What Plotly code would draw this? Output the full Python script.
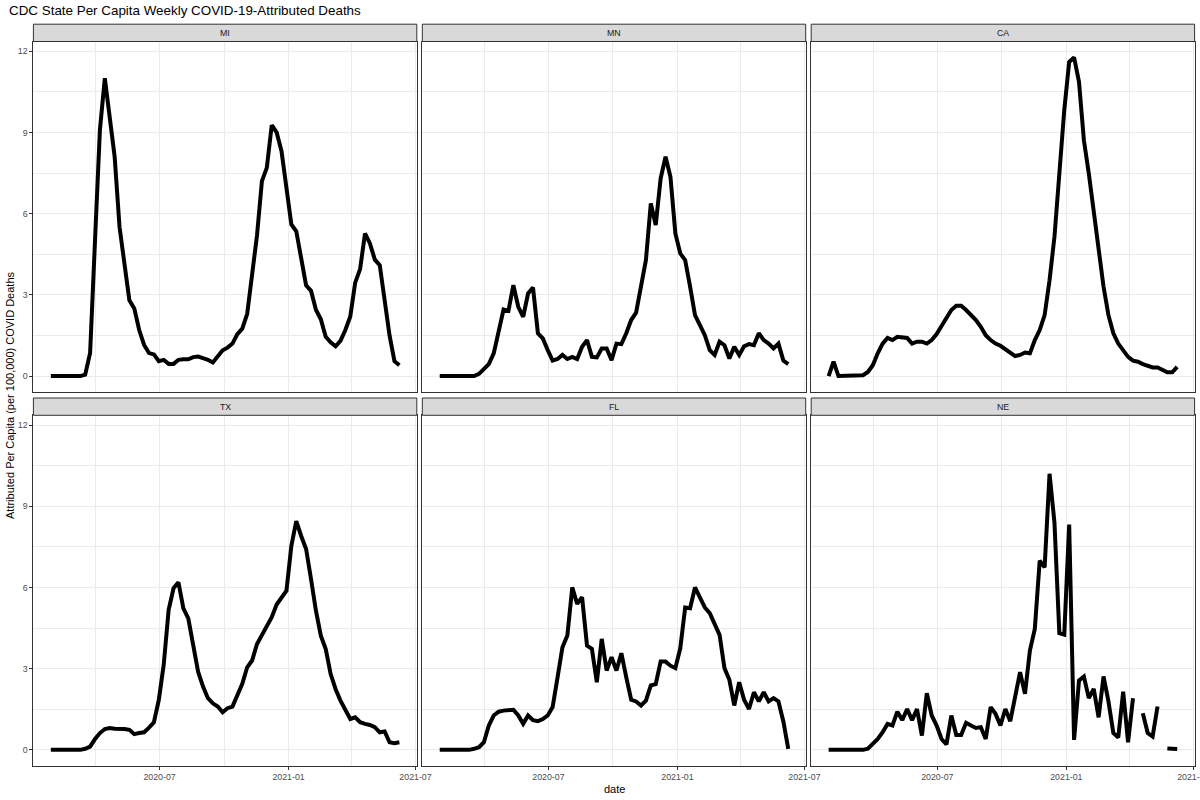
import numpy as np
import pandas as pd
import plotly.graph_objects as go
from plotly.subplots import make_subplots

# weekly per-capita deaths (per 100,000), one point per week
dates = pd.date_range("2020-01-28", periods=72, freq="7D")

states = ["MI", "MN", "CA", "TX", "FL", "NE"]

mi = [0, 0, 0, 0, 0, 0, 0, 0.05, 0.85, 5.0, 9.1, 11.0, 9.5, 8.1, 5.5, 4.1, 2.8, 2.5, 1.7, 1.15,
      0.85, 0.8, 0.55, 0.6, 0.45, 0.45, 0.6, 0.62, 0.62, 0.7, 0.72, 0.66, 0.6, 0.5, 0.75, 0.95,
      1.05, 1.2, 1.55, 1.75, 2.3, 3.9, 5.2, 7.2, 7.7, 9.27, 9.0, 8.3, 6.9, 5.6, 5.35, 4.3, 3.35,
      3.15, 2.45, 2.1, 1.45, 1.25, 1.1, 1.3, 1.7, 2.2, 3.45, 3.95, 5.27, 4.9, 4.3, 4.1, 2.85,
      1.5, 0.55, 0.4]
mn = [0, 0, 0, 0, 0, 0, 0, 0, 0.08, 0.28, 0.44, 0.84, 1.58, 2.46, 2.41, 3.36, 2.56, 2.19, 3.05,
      3.27, 1.58, 1.39, 0.96, 0.57, 0.63, 0.78, 0.63, 0.71, 0.63, 1.08, 1.33, 0.71, 0.69, 1.02,
      1.02, 0.59, 1.2, 1.18, 1.58, 2.07, 2.34, 3.42, 4.28, 6.38, 5.58, 7.3, 8.1, 7.36, 5.27, 4.53,
      4.28, 3.3, 2.25, 1.88, 1.51, 0.96, 0.78, 1.27, 1.14, 0.65, 1.08, 0.78, 1.1, 1.18, 1.14,
      1.58, 1.33, 1.2, 1.02, 1.2, 0.57, 0.44]
ca = [0, 0.53, 0, 0, 0, 0, 0.01, 0.03, 0.15, 0.4, 0.84, 1.2, 1.41, 1.33, 1.45, 1.44, 1.41, 1.2,
      1.27, 1.27, 1.2, 1.33, 1.55, 1.85, 2.13, 2.44, 2.6, 2.6, 2.44, 2.25, 2.07, 1.82, 1.51, 1.33,
      1.2, 1.12, 0.98, 0.84, 0.74, 0.78, 0.87, 0.84, 1.33, 1.7, 2.25, 3.54, 5.14, 7.48, 9.82,
      11.6, 11.77, 10.87, 8.71, 7.48, 6.0, 4.53, 3.3, 2.25, 1.58, 1.2, 0.96, 0.71, 0.57, 0.53,
      0.44, 0.37, 0.32, 0.32, 0.22, 0.14, 0.14, 0.34]
tx = [0, 0, 0, 0, 0, 0, 0, 0.04, 0.12, 0.4, 0.62, 0.77, 0.81, 0.78, 0.78, 0.77, 0.74, 0.58, 0.62,
      0.65, 0.82, 1.02, 1.85, 3.15, 5.17, 5.97, 6.19, 5.23, 4.86, 3.88, 2.89, 2.34, 1.91, 1.72,
      1.6, 1.39, 1.54, 1.6, 2.0, 2.44, 3.05, 3.3, 3.91, 4.22, 4.53, 4.9, 5.37, 5.61, 5.88, 7.54,
      8.45, 7.9, 7.42, 6.31, 5.14, 4.22, 3.72, 2.8, 2.25, 1.82, 1.48, 1.14, 1.2, 1.02, 0.96,
      0.92, 0.84, 0.65, 0.68, 0.28, 0.25, 0.28]
fl = [0, 0, 0, 0, 0, 0, 0, 0.04, 0.1, 0.28, 0.9, 1.27, 1.41, 1.45, 1.45, 1.48, 1.27, 0.96, 1.27,
      1.1, 1.06, 1.14, 1.27, 1.58, 2.68, 3.79, 4.22, 6.0, 5.39, 5.64, 3.85, 3.73, 2.5, 4.1, 2.93,
      3.42, 2.93, 3.57, 2.68, 1.85, 1.79, 1.64, 1.82, 2.38, 2.43, 3.26, 3.26, 3.11, 3.02, 3.75,
      5.26, 5.23, 6.0, 5.6, 5.26, 5.05, 4.68, 4.25, 3.02, 2.59, 1.64, 2.5, 1.85, 1.51, 2.13,
      1.79, 2.13, 1.79, 1.91, 1.79, 1.05, 0.04]
ne = [0, 0, 0, 0, 0, 0, 0, 0, 0.04, 0.22, 0.4, 0.65, 0.96, 0.9, 1.41, 1.1, 1.51, 1.1, 1.51, 0.53,
      2.09, 1.27, 0.9, 0.4, 0.2, 1.27, 0.55, 0.55, 1.0, 0.9, 0.81, 0.84, 0.4, 1.58, 1.33, 0.9,
      1.51, 1.06, 1.88, 2.87, 2.07, 3.67, 4.47, 6.99, 6.74, 10.2, 8.4, 4.31, 4.26, 8.32, 0.37,
      2.56, 2.71, 1.91, 2.25, 1.2, 2.71, 1.79, 0.62, 0.46, 2.15, 0.28, 1.91, None, 1.35, 0.62,
      0.49, 1.6, None, 0.05, 0.03, 0.03]

series = [mi, mn, ca, tx, fl, ne]

W, H = 1200, 800
FONT = "Liberation Sans, Arial, sans-serif"
col_left = [33.4, 422.3, 811.2]
pw = 383.4
row_top = [41.5, 415.3]
ph = 350.5
strip_h = 17.3

fig = make_subplots(rows=2, cols=3)

# ggplot-style fixed scales with 5% expansion
span = dates[-1] - dates[0]
xr = [dates[0] - 0.05 * span, dates[-1] + 0.05 * span]
ymax = np.nanmax([np.nan if v is None else v for s in series for v in s])
yr = [-0.05 * ymax, ymax * 1.05]

shapes = []
annotations = []
for k, (st, vals) in enumerate(zip(states, series)):
    r, c = k // 3 + 1, k % 3 + 1
    fig.add_trace(go.Scatter(x=dates, y=vals, mode="lines",
                             line=dict(color="black", width=4),
                             connectgaps=False, showlegend=False),
                  row=r, col=c)
    l = col_left[c - 1]
    t = row_top[r - 1]
    # automargin off: the last "2021-07" label must not push the plot area in
    fig.update_xaxes(domain=[l / W, (l + pw) / W], range=xr, type="date",
                     automargin=False, ticklabeloverflow="allow",
                     tick0="2020-01-01", dtick="M6", tickformat="%Y-%m",
                     showgrid=True, gridcolor="#EBEBEB", gridwidth=1,
                     minor=dict(dtick="M3", tick0="2020-01-01", showgrid=True,
                                gridcolor="#EBEBEB", gridwidth=0.5),
                     showline=True, mirror=True, linecolor="#333333", linewidth=1,
                     zeroline=False,
                     showticklabels=(r == 2), ticks="outside" if r == 2 else "",
                     ticklen=3, tickcolor="#333333", tickwidth=1,
                     tickfont=dict(size=8.8, color="#4D4D4D", family=FONT),
                     row=r, col=c)
    fig.update_yaxes(domain=[1 - (t + ph) / H, 1 - t / H], range=yr,
                     automargin=False,
                     tick0=0, dtick=3,
                     showgrid=True, gridcolor="#EBEBEB", gridwidth=1,
                     minor=dict(dtick=1.5, tick0=0, showgrid=True,
                                gridcolor="#EBEBEB", gridwidth=0.5),
                     showline=True, mirror=True, linecolor="#333333", linewidth=1,
                     zeroline=False,
                     showticklabels=(c == 1), ticks="outside" if c == 1 else "",
                     ticklen=3, tickcolor="#333333", tickwidth=1,
                     tickfont=dict(size=8.8, color="#4D4D4D", family=FONT),
                     row=r, col=c)
    # facet strip
    s_top = t - strip_h
    shapes.append(dict(type="rect", xref="paper", yref="paper",
                       x0=l / W, x1=(l + pw) / W, y0=1 - t / H, y1=1 - s_top / H,
                       fillcolor="#D9D9D9", line=dict(color="#333333", width=1)))
    annotations.append(dict(text=st, xref="paper", yref="paper",
                            x=(l + pw / 2) / W, y=1 - (s_top + strip_h / 2) / H,
                            xanchor="center", yanchor="middle", showarrow=False,
                            font=dict(size=8.8, color="#1A1A1A", family=FONT)))

annotations.append(dict(text="CDC State Per Capita Weekly COVID-19-Attributed Deaths",
                        xref="paper", yref="paper", x=7 / W, y=1 - 10.5 / H,
                        xanchor="left", yanchor="middle", showarrow=False,
                        font=dict(size=13.4, color="black", family=FONT)))
annotations.append(dict(text="date", xref="paper", yref="paper",
                        x=(col_left[0] + col_left[2] + pw) / 2 / W, y=1 - 789 / H,
                        xanchor="center", yanchor="middle", showarrow=False,
                        font=dict(size=11, color="black", family=FONT)))
annotations.append(dict(text="Attributed Per Capita (per 100,000) COVID Deaths",
                        xref="paper", yref="paper", x=10 / W,
                        y=1 - (row_top[0] - strip_h + row_top[1] + ph) / 2 / H,
                        xanchor="center", yanchor="middle", textangle=-90, showarrow=False,
                        font=dict(size=11, color="black", family=FONT)))

fig.update_layout(width=W, height=H, margin=dict(l=0, r=0, t=0, b=0, autoexpand=False),
                  paper_bgcolor="white", plot_bgcolor="white",
                  font=dict(family=FONT),
                  shapes=shapes, annotations=annotations)

# page body has a default 8px margin; drop it so the figure sits at the corner
post = ("document.body.style.margin='0px';"
        "document.body.style.overflow='hidden';")
fig.write_html("out.html", config={"displayModeBar": False}, post_script=post)
